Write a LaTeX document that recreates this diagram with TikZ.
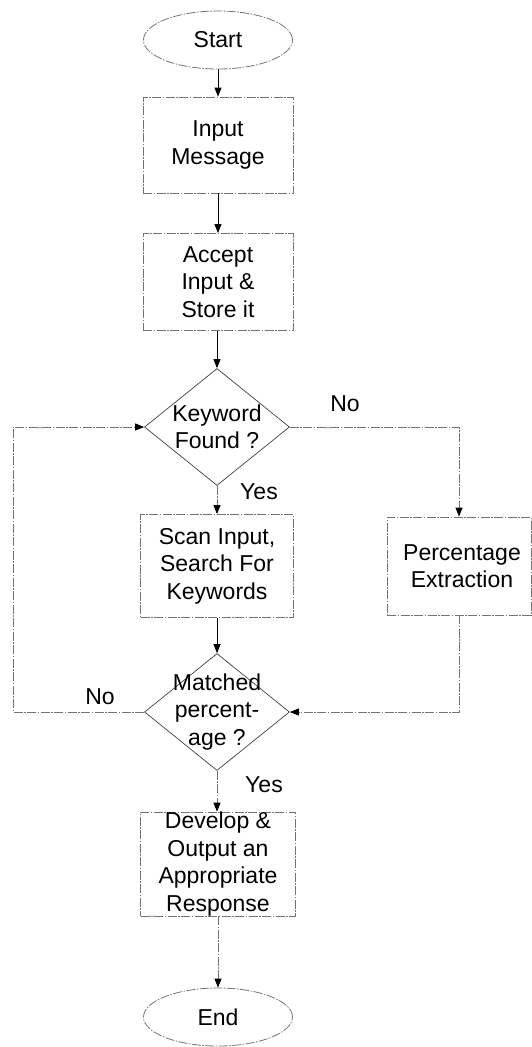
\documentclass[tikz,border=0pt]{standalone}
\usepackage{fontspec}
\setmainfont{Liberation Sans}
\usetikzlibrary{shapes.geometric,arrows.meta}
\begin{document}
\begin{tikzpicture}[x=1pt,y=-1pt,
  every node/.style={font=\fontsize{23}{27.5}\selectfont, align=center, inner sep=0pt},
  faint/.style={draw=black!55, line width=0.8pt, dash pattern=on 9pt off 1.5pt on 1.5pt off 1.5pt},
  procbox/.style={rectangle, faint},
  term/.style={ellipse, faint, minimum width=149pt, minimum height=58pt},
  decide/.style={diamond, draw=black!75, line width=0.7pt, minimum width=145pt, minimum height=117pt},
  tip/.style={-{Triangle[length=9pt,width=7pt,color=black]}},
  solidarrow/.style={tip, draw=black, line width=0.9pt},
  faintarrow/.style={tip, faint},
  lbl/.style={}
]
\useasboundingbox (0,0) rectangle (532,1047);

\node[term] (start) at (218,40) {Start};
\node[procbox, minimum width=150pt, minimum height=96pt] (input) at (218,145) {Input\\Message};
\node[procbox, minimum width=150pt, minimum height=97pt] (accept) at (218,282) {Accept\\Input \&\\Store it};
\node[decide] (kw) at (217,427) {};
\node (kwt) at (217,427) {Keyword\\Found ?};
\node[procbox, minimum width=153pt, minimum height=103pt] (scan) at (217,566) {Scan Input,\\Search For\\Keywords};
\node[procbox, minimum width=144pt, minimum height=98pt] (perc) at (459,566) {\hspace*{6pt}Percentage\\\hspace*{6pt}Extraction};
\node[decide] (mt) at (217,712) {};
\node (mtt) at (217,712) {Matched\\percent-\\age ?};
\node[procbox, minimum width=155pt, minimum height=102pt] (dev) at (218,864) {Develop \&\\Output an\\Appropriate\\Response};
\node[term] (end) at (218,1017) {End};

\coordinate (lb) at (13,712);
\coordinate (lt) at (13,427);

\node[lbl] (no1) at (345,404) {No};
\node[lbl] (yes1) at (259,492) {Yes};
\node[lbl] (no2) at (100,697) {No};
\node[lbl] (yes2) at (264,785) {Yes};

\draw[solidarrow] (start.south) -- (start.south |- input.north);
\draw[solidarrow] (input.south) -- (input.south |- accept.north);
\draw[solidarrow] (accept.south -| kw.north) -- (kw.north);
\draw[faintarrow] (kw.south) -- (scan.north);
\draw[faintarrow] (kw.east) -- (kw.east -| perc.north) -- (perc.north);
\draw[solidarrow] (scan.south) -- (mt.north);
\draw[faintarrow] (perc.south) -- (perc.south |- mt.east) -- (mt.east);
\draw[faintarrow] (mt.west) -- (lb) -- (lt) -- (kw.west);
\draw[faintarrow] (mt.south) -- (mt.south |- dev.north);
\draw[faintarrow] (dev.south) -- (dev.south |- end.north);
\end{tikzpicture}
\end{document}
